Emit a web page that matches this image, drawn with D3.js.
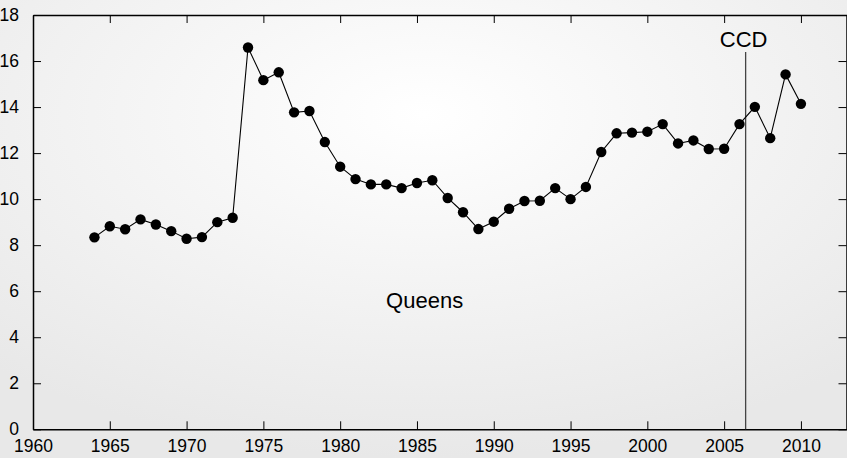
<!DOCTYPE html>
<html lang="en">
<head>
<meta charset="UTF-8">
<title>Queens</title>
<script src="https://d3js.org/d3.v7.min.js"></script>
<style>
    body { margin: 0; }
    text { font-family: "Liberation Sans", Arial, sans-serif; fill: #000; }
    .axis path, .axis line { stroke: #000; }
</style>
</head>
<body>
<script>
    const years = d3.range(1964, 2011);
    const values = [8.34, 8.82, 8.69, 9.12, 8.90, 8.61, 8.28, 8.35, 9.00, 9.19,
        16.59, 15.17, 15.51, 13.77, 13.83, 12.48, 11.41, 10.87, 10.64, 10.64,
        10.48, 10.70, 10.82, 10.05, 9.43, 8.70, 9.02, 9.58, 9.92, 9.93,
        10.48, 10.00, 10.53, 12.05, 12.86, 12.89, 12.93, 13.26, 12.42, 12.55,
        12.18, 12.19, 13.26, 14.01, 12.65, 15.42, 14.14];
    const xTicks = [1960, 1965, 1970, 1975, 1980, 1985, 1990, 1995, 2000, 2005, 2010];
    const yTicks = [0, 2, 4, 6, 8, 10, 12, 14, 16, 18];
    const ccdYear = 2006.4;

    const width = 847, height = 458;
    const mLeft = 33, mRight = 847, mTop = 15, mBottom = 429.3;

    const svg = d3.select("body").append("svg")
        .attr("width", width).attr("height", height);

    const grad = svg.append("defs").append("radialGradient")
        .attr("id", "bg").attr("cx", "50%").attr("cy", "25%").attr("r", "75%");
    grad.append("stop").attr("offset", "0%").attr("stop-color", "#ffffff");
    grad.append("stop").attr("offset", "100%").attr("stop-color", "#e8e8e8");
    svg.append("rect").attr("width", width).attr("height", height).attr("fill", "url(#bg)");

    const x = d3.scaleLinear().domain([1960, 2013]).range([mLeft, mRight]);
    const y = d3.scaleLinear().domain([0, 18]).range([mBottom, mTop]);

    // frame with inward ticks on all sides
    svg.append("g").attr("class", "axis")
        .attr("transform", `translate(0,${mBottom})`)
        .call(d3.axisBottom(x).tickValues(xTicks).tickFormat(d3.format("d")).tickSizeInner(-8).tickSizeOuter(0).tickPadding(10))
        .call(g => g.selectAll("text").attr("font-size", 17.5).attr("dy", "0.71em"));
    svg.append("g").attr("class", "axis")
        .attr("transform", `translate(0,${mTop})`)
        .call(d3.axisTop(x).tickValues(xTicks).tickFormat("").tickSizeInner(-8).tickSizeOuter(0));
    svg.append("g").attr("class", "axis")
        .attr("transform", `translate(${mLeft},0)`)
        .call(d3.axisLeft(y).tickValues(yTicks).tickSizeInner(-8).tickSizeOuter(0).tickPadding(14))
        .call(g => g.selectAll("text").attr("font-size", 17.5));
    svg.append("g").attr("class", "axis")
        .attr("transform", `translate(${mRight - 0.5},0)`)
        .call(d3.axisRight(y).tickValues(yTicks).tickFormat("").tickSizeInner(-8).tickSizeOuter(0));
    svg.selectAll(".axis path").attr("stroke-width", 1.5);

    // CCD marker
    svg.append("line")
        .attr("x1", x(ccdYear)).attr("x2", x(ccdYear))
        .attr("y1", 52).attr("y2", mBottom)
        .attr("stroke", "#444").attr("stroke-width", 1.3);
    svg.append("text")
        .attr("x", x(ccdYear) - 2).attr("y", 47)
        .attr("text-anchor", "middle").attr("font-size", 22)
        .text("CCD");

    const data = years.map((yr, i) => ({ year: yr, value: values[i] }));

    svg.append("path").datum(data)
        .attr("fill", "none").attr("stroke", "#000").attr("stroke-width", 1.1)
        .attr("d", d3.line().x(d => x(d.year)).y(d => y(d.value)));

    svg.append("g").selectAll("circle").data(data).enter()
        .append("circle")
        .attr("cx", d => x(d.year)).attr("cy", d => y(d.value))
        .attr("r", 5.2).attr("fill", "#000");

    svg.append("text")
        .attr("x", x(1985.5)).attr("y", 307.5)
        .attr("text-anchor", "middle").attr("font-size", 22)
        .text("Queens");
</script>
</body>
</html>
